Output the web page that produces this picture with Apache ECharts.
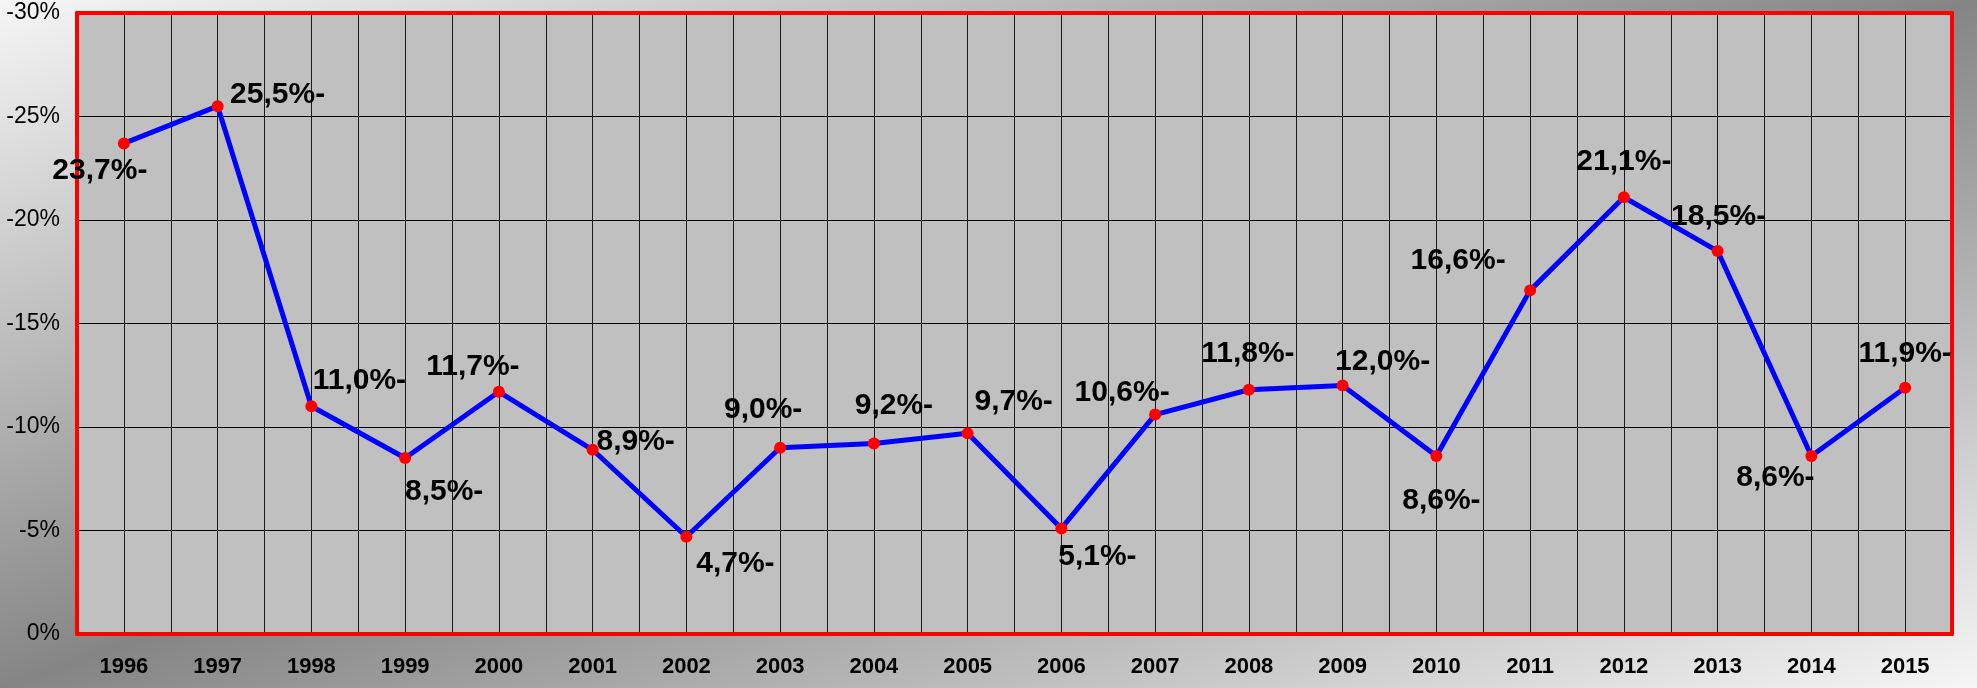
<!DOCTYPE html>
<html>
<head>
<meta charset="utf-8">
<script src="https://cdn.jsdelivr.net/npm/echarts@6/dist/echarts.min.js"></script>
<style>
  html, body { margin: 0; padding: 0; }
  #chart {
    width: 1977px;
    height: 688px;
    background: linear-gradient(to bottom right, #f6f6f6 0%, #858585 50%, #f6f6f6 100%);
  }
</style>
</head>
<body>
<div id="chart"></div>
<script>
// jaren en waarden (negatief, as loopt van 0% onder naar -30% boven)
const years = ['1996', '1997', '1998', '1999', '2000', '2001', '2002', '2003', '2004', '2005',
  '2006', '2007', '2008', '2009', '2010', '2011', '2012', '2013', '2014', '2015'];
const values = [-23.7, -25.5, -11.0, -8.5, -11.7, -8.9, -4.7, -9.0, -9.2, -9.7,
  -5.1, -10.6, -11.8, -12.0, -8.6, -16.6, -21.1, -18.5, -8.6, -11.9];
const yTicks = { min: -30, max: 0, step: 5 };

// verschuiving van elk label t.o.v. het punt (px)
const labelOffsets = [
  [-24, 27], [60, -11], [48, -26], [39, 34], [-26, -25], [43, -8], [49, 27], [-17, -38],
  [20, -38], [46, -31], [36, 28], [-33, -22], [-1, -36], [40, -24], [5, 45], [-72, -30],
  [0, -35], [1, -34], [-36, 22], [0, -34]
];

const fmt = v => Math.abs(v).toFixed(1).replace('.', ',') + '%-';
const font = 'Arial, "Liberation Sans", sans-serif';
const red = { show: true, onZero: false, lineStyle: { color: '#ff0000', width: 4 } };

const chart = echarts.init(document.getElementById('chart'));

chart.setOption({
  animation: false,
  grid: {
    left: 77,
    right: 25,
    top: 13,
    bottom: 54,
    show: true,
    backgroundColor: '#c0c0c0',
    borderWidth: 0
  },
  xAxis: [{
    type: 'category',
    data: years,
    boundaryGap: true,
    position: 'bottom',
    axisLine: red,
    axisTick: { show: false },
    splitLine: { show: false },
    axisLabel: {
      margin: 22,
      color: '#000',
      fontSize: 22,
      fontWeight: 'bold',
      fontFamily: font
    }
  }, {
    // alleen voor de verticale rasterlijnen (midden en rand van elk jaar)
    type: 'value',
    position: 'top',
    min: 0,
    max: years.length * 2,
    interval: 1,
    axisLine: red,
    axisTick: { show: false },
    axisLabel: { show: false },
    splitLine: { show: true, lineStyle: { color: '#1a1a1a', width: 1 } }
  }],
  yAxis: [{
    type: 'value',
    inverse: true,
    position: 'left',
    min: yTicks.min,
    max: yTicks.max,
    interval: yTicks.step,
    axisLine: red,
    axisTick: { show: false },
    axisLabel: {
      margin: 17,
      color: '#000',
      fontSize: 23,
      fontFamily: font,
      formatter: v => v + '%'
    },
    splitLine: { lineStyle: { color: '#000', width: 1 } }
  }, {
    type: 'value',
    position: 'right',
    inverse: true,
    min: yTicks.min,
    max: yTicks.max,
    interval: yTicks.step,
    axisLine: red,
    axisTick: { show: false },
    axisLabel: { show: false },
    splitLine: { show: false }
  }],
  series: [{
    type: 'line',
    xAxisIndex: 0,
    yAxisIndex: 0,
    data: values.map((v, i) => ({
      value: v,
      label: { offset: labelOffsets[i] }
    })),
    symbol: 'circle',
    symbolSize: 12,
    itemStyle: { color: '#ff0000' },
    lineStyle: { color: '#0000ff', width: 5 },
    label: {
      show: true,
      position: 'inside',
      align: 'center',
      verticalAlign: 'middle',
      color: '#000',
      fontSize: 30,
      fontWeight: 'bold',
      fontFamily: font,
      formatter: p => fmt(p.value)
    },
    z: 3
  }]
});
</script>
</body>
</html>
